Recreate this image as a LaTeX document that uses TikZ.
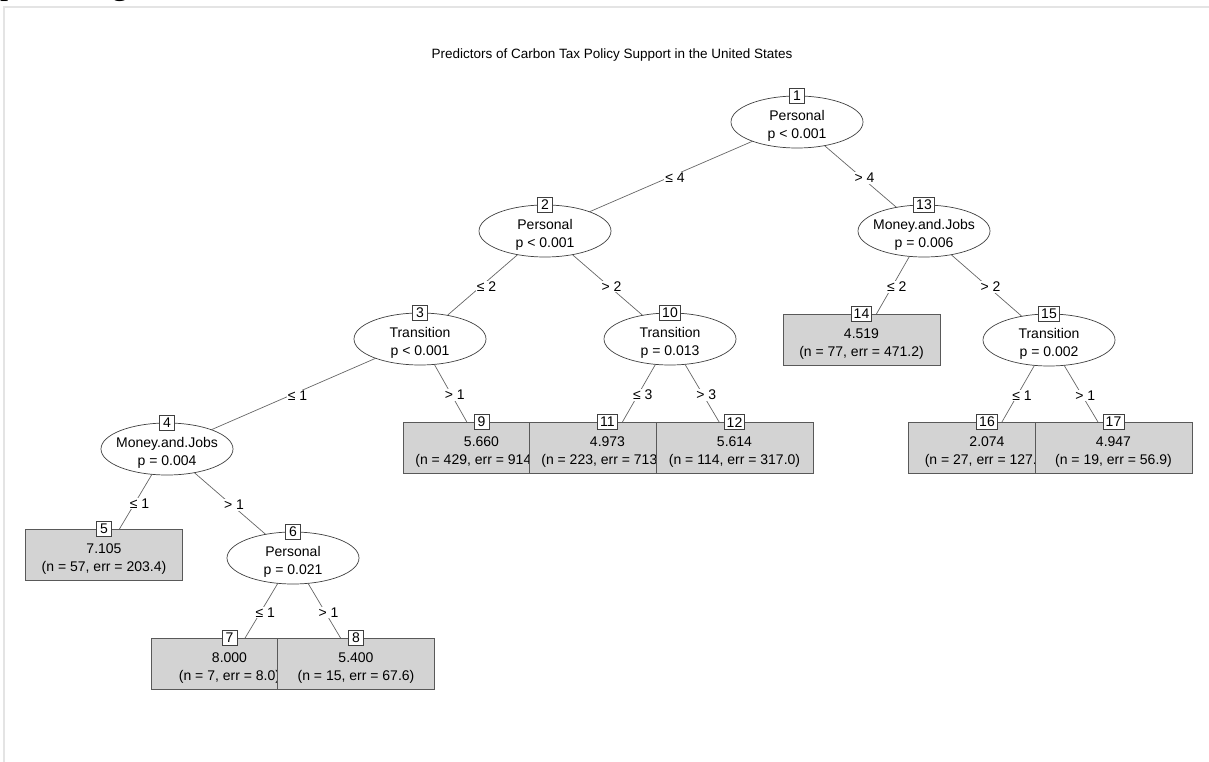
\documentclass[tikz,border=0pt]{standalone}
\usepackage{fontspec}
\setmainfont{Liberation Sans}
\newfontfamily\serifpct{Liberation Serif}
\usetikzlibrary{shapes.geometric}
\pgfdeclarelayer{bg}
\pgfsetlayers{bg,main}
\definecolor{leafgray}{HTML}{D3D3D3}
\definecolor{framegray}{HTML}{E4E4E4}
\newcommand{\fs}{\fontsize{14}{18}\selectfont}
\begin{document}
\begin{tikzpicture}[x=1pt,y=-1pt,
  inner/.style={ellipse, draw=black!75, fill=white, line width=0.7pt,
    minimum width=132pt, minimum height=52pt, inner sep=0pt},
  leaf/.style={rectangle, draw=black!65, fill=leafgray, line width=0.7pt,
    minimum width=157pt, minimum height=51pt, inner sep=0pt},
  txt/.style={inner sep=0pt, align=center, font=\fs, yshift=-4pt},
  numbox/.style={rectangle, draw=black!75, fill=white, line width=0.6pt,
    minimum height=15pt, minimum width=15pt, inner xsep=2.5pt, inner ysep=0pt, font=\fs},
  edge/.style={draw=black!60, line width=0.7pt},
  elab/.style={fill=white, inner sep=1pt, font=\fs, xshift=4pt, yshift=-1.5pt}
]
\useasboundingbox (0,0) rectangle (1209,762);
\clip (0,0) rectangle (1209,762);
% frame and cut-off text
\draw[framegray, line width=2pt] (4,762) -- (4,7) -- (1209,7);
\node[anchor=base west, inner sep=0pt, font=\serifpct\fontsize{33}{33}\selectfont] (pct) at (0,-5) {percentages};
% title
\node[font=\fontsize{13.5}{16}\selectfont] (title) at (612,55) {Predictors of Carbon Tax Policy Support in the United States};

% inner nodes
\node[inner] (n1) at (797,122) {};
\node[txt] (t1) at (n1.center) {Personal\\p < 0.001};
\node[inner] (n2) at (545,231) {};
\node[txt] (t2) at (n2.center) {Personal\\p < 0.001};
\node[inner] (n3) at (420,339) {};
\node[txt] (t3) at (n3.center) {Transition\\p < 0.001};
\node[inner] (n10) at (670,339) {};
\node[txt] (t10) at (n10.center) {Transition\\p = 0.013};
\node[inner] (n4) at (167,449) {};
\node[txt] (t4) at (n4.center) {Money.and.Jobs\\p = 0.004};
\node[inner] (n6) at (293,558) {};
\node[txt] (t6) at (n6.center) {Personal\\p = 0.021};
\node[inner] (n13) at (924,231) {};
\node[txt] (t13) at (n13.center) {Money.and.Jobs\\p = 0.006};
\node[inner] (n15) at (1049,340) {};
\node[txt] (t15) at (n15.center) {Transition\\p = 0.002};

% leaves (later ones drawn over earlier ones)
\node[leaf] (n5) at (104,555) {};
\node[txt] (t5) at (n5.center) {7.105\\(n = 57, err = 203.4)};
\node[leaf] (n7) at (229.5,664) {};
\node[txt] (t7) at (n7.center) {8.000\\(n = 7, err = 8.0)};
\node[leaf] (n8) at (356,664) {};
\node[txt] (t8) at (n8.center) {5.400\\(n = 15, err = 67.6)};
\node[leaf] (n9) at (481.5,448) {};
\node[txt] (t9) at (n9.center) {5.660\\(n = 429, err = 914.0)};
\node[leaf] (n11) at (607.5,448) {};
\node[txt] (t11) at (n11.center) {4.973\\(n = 223, err = 713.0)};
\node[leaf] (n12) at (734.5,448) {};
\node[txt] (t12) at (n12.center) {5.614\\(n = 114, err = 317.0)};
\node[leaf] (n14) at (861.5,340) {};
\node[txt] (t14) at (n14.center) {4.519\\(n = 77, err = 471.2)};
\node[leaf] (n16) at (987,448) {};
\node[txt] (t16) at (n16.center) {2.074\\(n = 27, err = 127.0)};
\node[leaf] (n17) at (1113.5,448) {};
\node[txt] (t17) at (n17.center) {4.947\\(n = 19, err = 56.9)};

% number boxes
\foreach \n in {1,2,3,4,5,6,7,8,9,10,11,12,13,14,15,16,17}
  \node[numbox] (b\n) at (n\n.north) {\n};

% edges
\begin{pgfonlayer}{bg}
\draw[edge] (n1.center) -- node[elab]{≤ 4} (n2.center);
\draw[edge] (n1.center) -- node[elab]{> 4} (n13.center);
\draw[edge] (n2.center) -- node[elab]{≤ 2} (n3.center);
\draw[edge] (n2.center) -- node[elab]{> 2} (n10.center);
\draw[edge] (n3.center) -- node[elab]{≤ 1} (n4.center);
\draw[edge] (n3.center) -- node[elab]{> 1} (n9.center);
\draw[edge] (n4.center) -- node[elab]{≤ 1} (n5.center);
\draw[edge] (n4.center) -- node[elab]{> 1} (n6.center);
\draw[edge] (n6.center) -- node[elab]{≤ 1} (n7.center);
\draw[edge] (n6.center) -- node[elab]{> 1} (n8.center);
\draw[edge] (n10.center) -- node[elab]{≤ 3} (n11.center);
\draw[edge] (n10.center) -- node[elab]{> 3} (n12.center);
\draw[edge] (n13.center) -- node[elab]{≤ 2} (n14.center);
\draw[edge] (n13.center) -- node[elab]{> 2} (n15.center);
\draw[edge] (n15.center) -- node[elab]{≤ 1} (n16.center);
\draw[edge] (n15.center) -- node[elab]{> 1} (n17.center);
\end{pgfonlayer}
\end{tikzpicture}
\end{document}
